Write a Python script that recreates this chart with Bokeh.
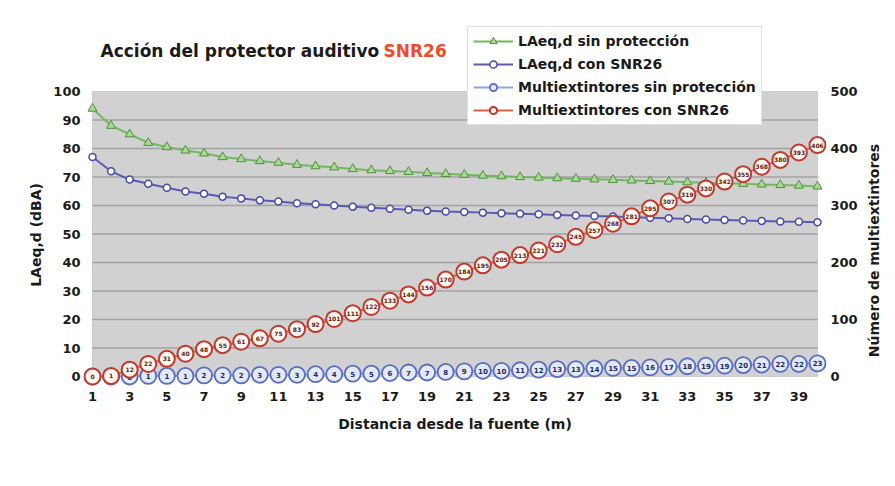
import math
from bokeh.plotting import figure
from bokeh.models import (Range1d, LinearAxis, FixedTicker, Legend, LegendItem,
                          Label, BoxAnnotation)
from bokeh.core.properties import value
from bokeh.embed import file_html
from bokeh.resources import INLINE

# ---------------- data ----------------
distance = list(range(1, 41))
laeq_sin = [94, 88, 85, 82, 80.5, 79.3, 78.3, 77, 76.3, 75.6,
            75, 74.3, 73.8, 73.4, 72.8, 72.4, 72.1, 71.8, 71.4, 71.1,
            70.8, 70.5, 70.3, 70, 69.8, 69.6, 69.4, 69.2, 69, 68.8,
            68.6, 68.4, 68.2, 68, 67.8, 67.6, 67.4, 67.2, 67, 66.7]
laeq_con = [77, 72, 69.1, 67.6, 66.2, 64.9, 64.1, 63.1, 62.5, 61.8,
            61.4, 60.8, 60.4, 60, 59.6, 59.2, 58.9, 58.5, 58.2, 57.9,
            57.7, 57.5, 57.3, 57.1, 56.9, 56.7, 56.5, 56.3, 56.1, 55.9,
            55.7, 55.5, 55.3, 55.1, 54.9, 54.7, 54.6, 54.4, 54.3, 54.1]
multi_sin = [0, 0, 0, 1, 1, 1, 2, 2, 2, 3,
             3, 3, 4, 4, 5, 5, 6, 7, 7, 8,
             9, 10, 10, 11, 12, 13, 13, 14, 15, 15,
             16, 17, 18, 19, 19, 20, 21, 22, 22, 23]
multi_con = [0, 1, 12, 22, 31, 40, 48, 55, 61, 67,
             75, 83, 92, 101, 111, 122, 133, 144, 156, 170,
             184, 195, 205, 213, 221, 232, 245, 257, 268, 281,
             295, 307, 319, 330, 342, 355, 368, 380, 393, 406]
x_ticks = list(range(1, 40, 2))
left_ticks = list(range(0, 101, 10))
right_ticks = list(range(0, 501, 100))

series_names = ["LAeq,d sin protección", "LAeq,d con SNR26",
                "Multiextintores sin protección", "Multiextintores con SNR26"]
title_main = "Acción del protector auditivo"
title_accent = "SNR26"
x_label = "Distancia desde la fuente (m)"
y_label = "LAeq,d (dBA)"
y2_label = "Número de multiextintores"

# ---------------- layout ----------------
FONT = "DejaVu Sans"
W, H = 895, 486
FL, FR, FT, FB = 83, 826, 0, 386           # frame edges (px)
GL, GR, GT, GB = 92, 817, 91, 376          # grey plot area edges (px)
px_x = (GR - GL) / (distance[-1] - distance[0])
px_y = (GB - GT) / 100.0
x0 = distance[0] - (GL - FL) / px_x
x1 = distance[-1] + (FR - GR) / px_x
y0 = -(FB - GB) / px_y
y1 = 100 + (GT - FT) / px_y

def dx(px):   # pixel column -> data x
    return x0 + (px - FL) / px_x

def dy(py):   # pixel row -> data y (left scale)
    return y0 + (FB - py) / px_y

p = figure(width=W, height=H, output_backend="svg", toolbar_location=None,
           x_range=Range1d(x0, x1), y_range=Range1d(y0, y1),
           min_border_left=FL, min_border_right=W - FR,
           min_border_top=FT, min_border_bottom=H - FB)
p.extra_y_ranges = {"right": Range1d(y0 * 5, y1 * 5)}
p.background_fill_color = "white"
p.border_fill_color = "white"
p.outline_line_color = None
p.xgrid.visible = False
p.ygrid.visible = False

# plot area
p.add_layout(BoxAnnotation(left=distance[0], right=distance[-1], bottom=0, top=100,
                           fill_color="#d1d1d1", fill_alpha=1,
                           line_color="#8c8c8c", line_width=1, level="underlay"))
p.segment(x0=distance[0], x1=distance[-1], y0=left_ticks[1:-1], y1=left_ticks[1:-1],
          line_color="#a2a2a2", line_width=1.5)

def style_axis(ax, size="13px"):
    ax.axis_line_color = None
    ax.major_tick_line_color = None
    ax.minor_tick_line_color = None
    ax.major_tick_out = 0
    ax.major_tick_in = 0
    ax.minor_tick_out = 0
    ax.minor_tick_in = 0
    ax.major_label_text_font = FONT
    ax.major_label_text_font_style = "bold"
    ax.major_label_text_font_size = size
    ax.major_label_text_color = "#1a1a1a"
    ax.axis_label_text_font = FONT
    ax.axis_label_text_font_style = "bold"
    ax.axis_label_text_font_size = "14px"
    ax.axis_label_text_color = "#1a1a1a"

NB = "\u00a0"

xa = p.xaxis[0]
style_axis(xa)
xa.ticker = FixedTicker(ticks=x_ticks)
xa.major_label_standoff = 5
xa.axis_label = x_label
xa.axis_label_standoff = 12

ya = p.yaxis[0]
style_axis(ya)
ya.ticker = FixedTicker(ticks=left_ticks)
ya.major_label_standoff = 3
ya.axis_label = y_label + NB * 17
ya.axis_label_standoff = 6

ra = LinearAxis(y_range_name="right", ticker=FixedTicker(ticks=right_ticks))
style_axis(ra)
ra.major_label_standoff = 4
ra.axis_label_standoff = 13
upward = False
try:
    ra.axis_label_orientation = math.pi / 2
    try:
        ra.axis_label_align = "start"
        upward = True
    except Exception:
        ra.axis_label_orientation = "parallel"
except Exception:
    pass
ra.axis_label = (NB * 6 + y2_label) if upward else y2_label
p.add_layout(ra, "right")

# ---------------- series ----------------
g_line = p.line(distance, laeq_sin, line_color="#72b860", line_width=2)
g_mark = p.scatter(distance, laeq_sin, marker="triangle", size=9,
                   fill_color="#a9d992", line_color="#4f8f40", line_width=1)

v_line = p.line(distance, laeq_con, line_color="#5a5ab4", line_width=2)
v_mark = p.scatter(distance, laeq_con, marker="circle", size=7,
                   fill_color="#ffffff", line_color="#4a4aa4", line_width=1.5)

b_line = p.line(distance, multi_sin, y_range_name="right",
                line_color="#8aa4e0", line_width=2)
b_mark = p.scatter(distance, multi_sin, y_range_name="right", marker="circle", size=16,
                   fill_color="#e2e9f8", line_color="#5a6cc0", line_width=1.8)
p.text(distance, multi_sin, text=[str(v) for v in multi_sin], y_range_name="right",
       text_font=value(FONT), text_font_style="bold", text_font_size="7px",
       text_align="center", text_baseline="middle", text_color="#1c2a60")

r_line = p.line(distance, multi_con, y_range_name="right",
                line_color="#d8604c", line_width=2)
r_mark = p.scatter(distance, multi_con, y_range_name="right", marker="circle", size=16,
                   fill_color="#fff6f2", line_color="#c0392b", line_width=2)
p.text(distance, multi_con, text=[str(v) for v in multi_con], y_range_name="right",
       text_font=value(FONT), text_font_style="bold", text_font_size="6px",
       text_align="center", text_baseline="middle", text_color="#5a1a10")

# ---------------- legend ----------------
legend = Legend(items=[
    LegendItem(label=series_names[0], renderers=[g_line, g_mark]),
    LegendItem(label=series_names[1], renderers=[v_line, v_mark]),
    LegendItem(label=series_names[2], renderers=[b_line, b_mark]),
    LegendItem(label=series_names[3], renderers=[r_line, r_mark]),
], location=(467 - FL, FB - 125), orientation="vertical",
    label_text_font=FONT, label_text_font_style="bold", label_text_font_size="14px",
    label_text_color="#1a1a1a",
    label_height=18, glyph_height=18, glyph_width=40, spacing=5, padding=5, margin=0,
    label_standoff=5,
    border_line_color="#c4c4c4", border_line_width=1,
    background_fill_color="white", background_fill_alpha=1)
p.add_layout(legend)

# ---------------- title ----------------
p.add_layout(Label(x=dx(100), y=dy(50), text=title_main, text_font=FONT,
                   text_font_style="bold", text_font_size="17px", text_color="#1a1a1a",
                   text_baseline="middle", text_align="left"))
p.add_layout(Label(x=dx(383), y=dy(50), text=title_accent, text_font=FONT,
                   text_font_style="bold", text_font_size="17px", text_color="#ee4b2b",
                   text_baseline="middle", text_align="left"))

open("out.html", "w").write(file_html(p, INLINE))
